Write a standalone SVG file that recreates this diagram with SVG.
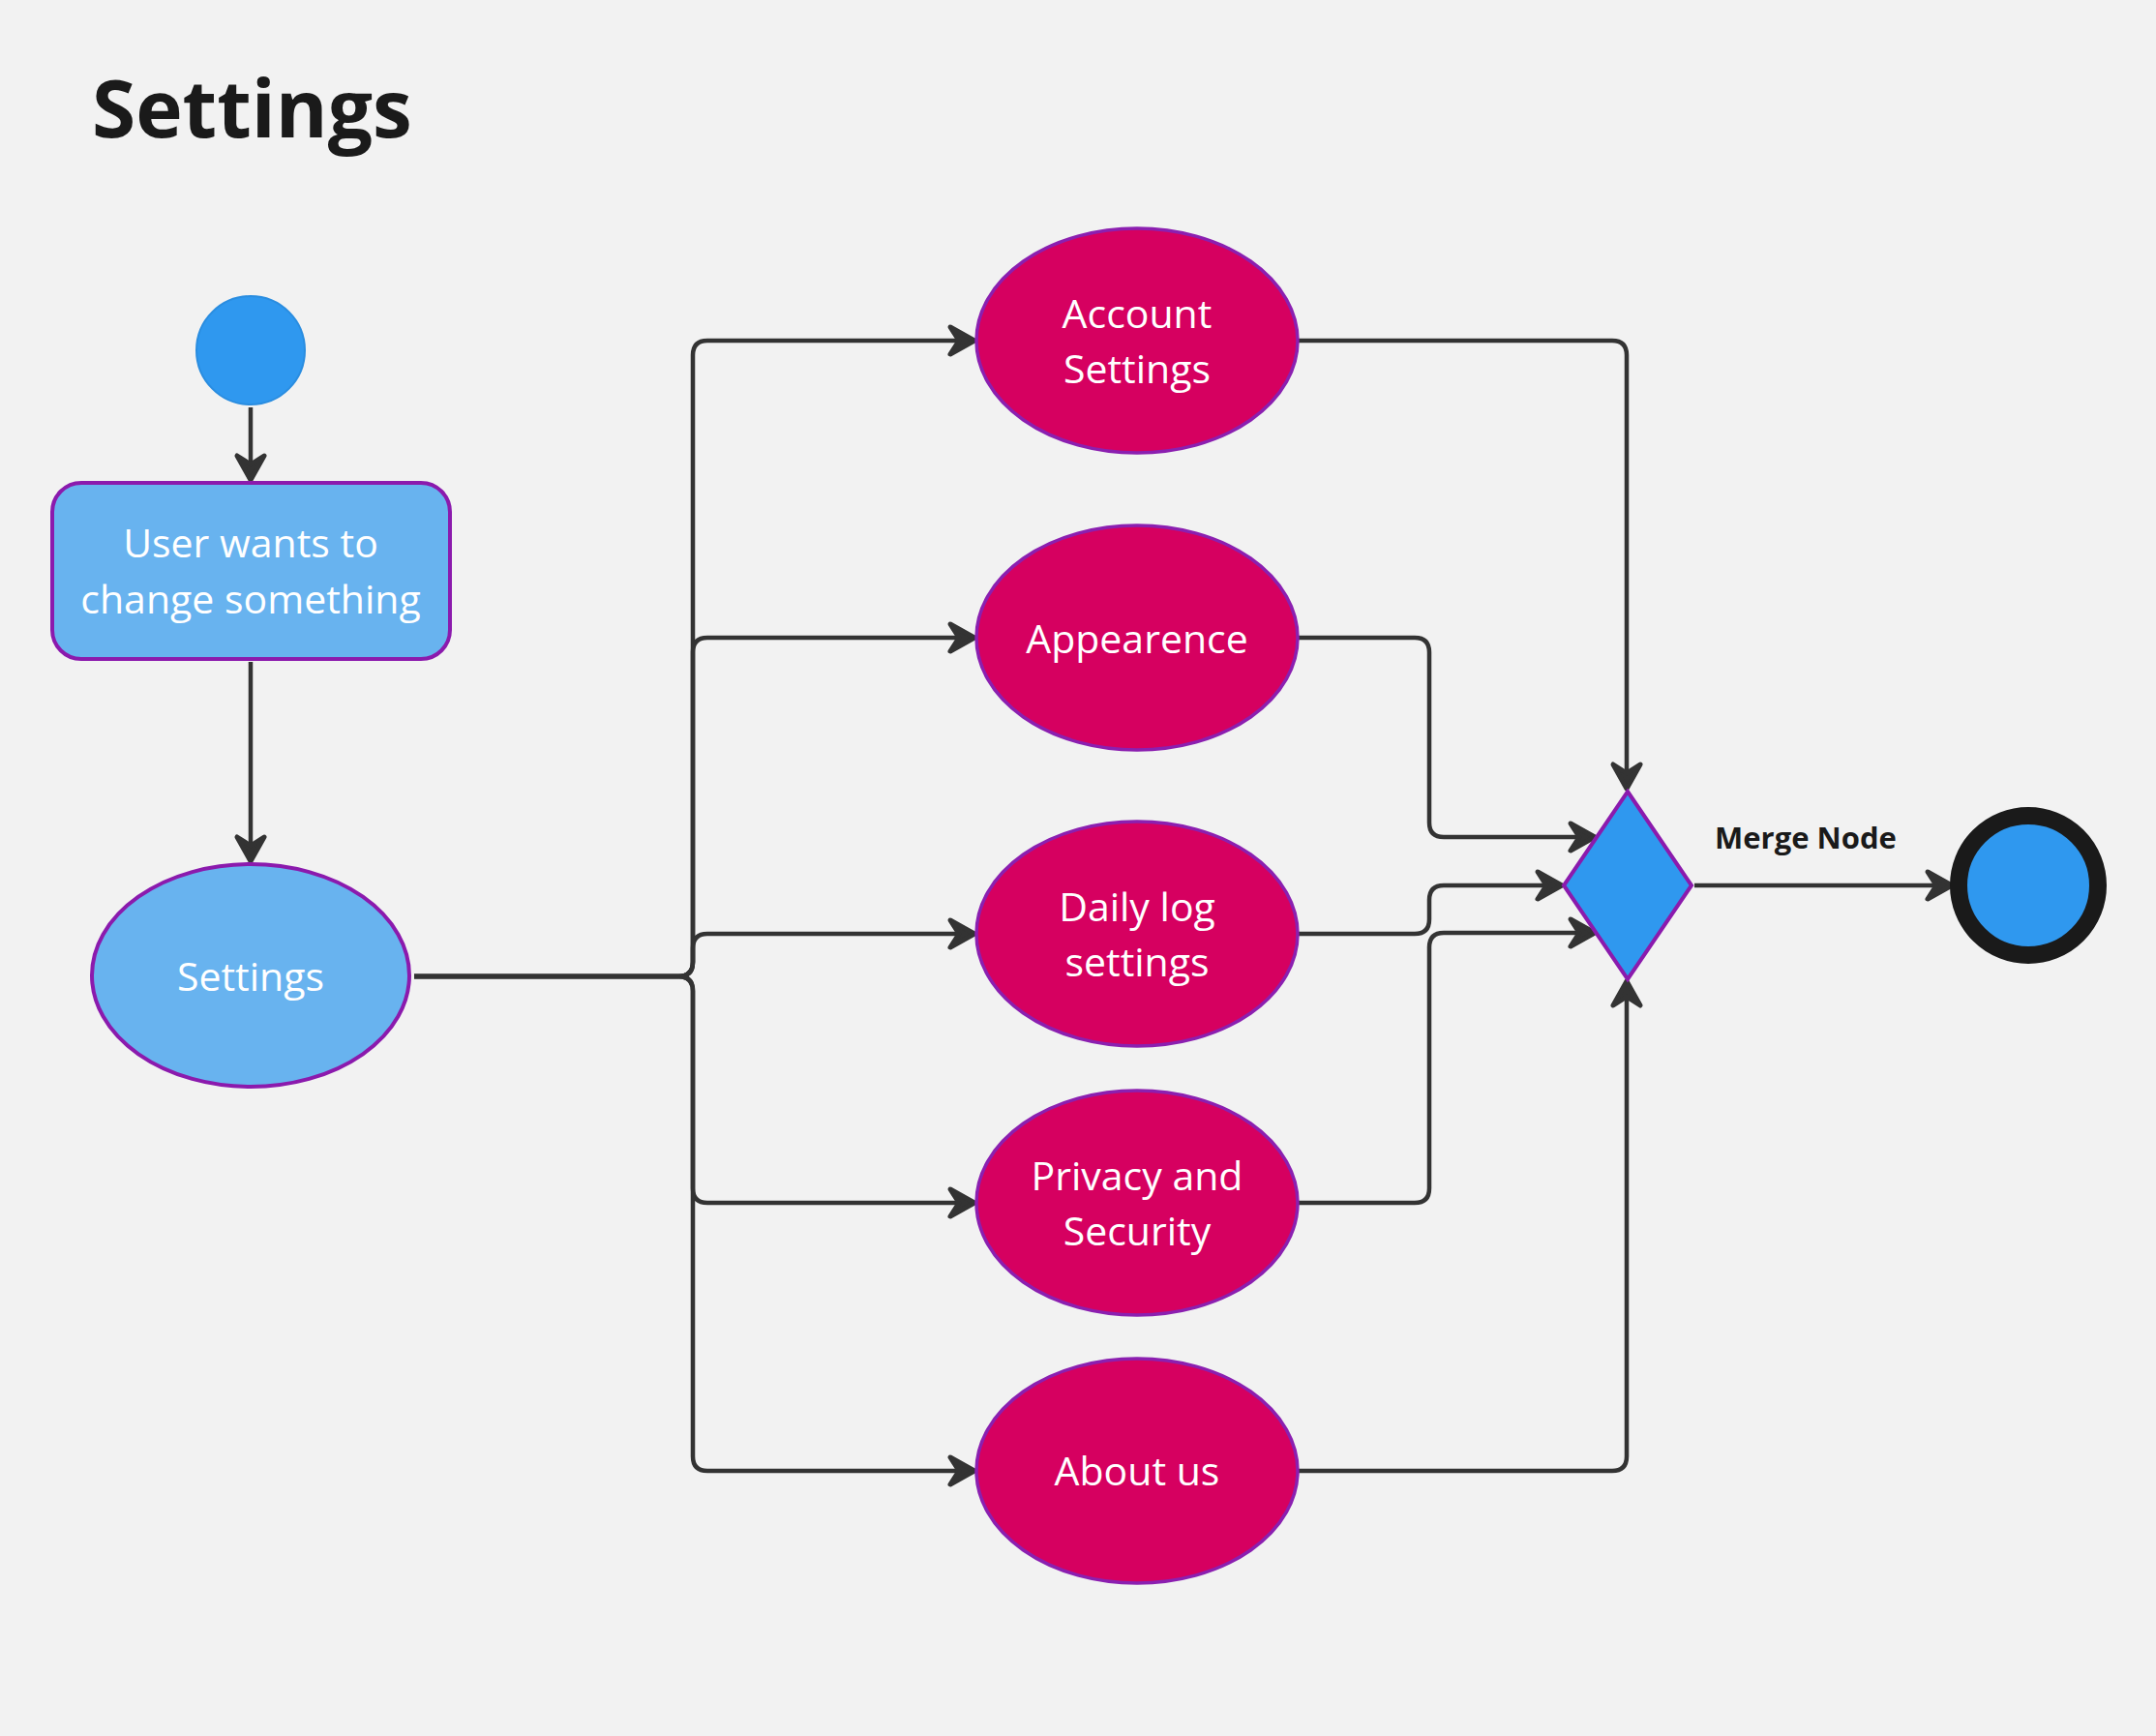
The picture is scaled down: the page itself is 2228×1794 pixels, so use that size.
<svg xmlns="http://www.w3.org/2000/svg" width="2228" height="1794" viewBox="0 0 2228 1794">
<style>
.lbl{font-family:"Open Sans","Noto Sans","Liberation Sans",sans-serif;font-size:41px;fill:#ffffff;text-anchor:middle}
.pink{fill:#d60060;stroke:#8b1fb0;stroke-width:3.5}
.lb{fill:#68b3ef;stroke:#8b1aad;stroke-width:4}
.conn{fill:none;stroke:#333333;stroke-width:4.5;stroke-linejoin:round}
</style>
<defs>
<marker id="arr" viewBox="-36 -22 44 44" refX="-10" refY="0" markerWidth="44" markerHeight="44" markerUnits="userSpaceOnUse" orient="auto">
<path d="M-1,0 L-26,-14 L-17,0 L-26,14 Z" fill="#333333" stroke="#333333" stroke-width="5" stroke-linejoin="round"/>
</marker>
</defs>
<rect x="0" y="0" width="2228" height="1794" fill="#f2f2f2"/>
<text x="95" y="142" font-family="'Open Sans','Noto Sans','Liberation Sans',sans-serif" font-size="82" font-weight="bold" fill="#1a1a1a">Settings</text>

<g id="connectors">
<path class="conn" marker-end="url(#arr)" d="M259,421 V487"/>
<path class="conn" marker-end="url(#arr)" d="M259,684 V881"/>
<path class="conn" marker-end="url(#arr)" d="M428,1009 H701 Q716,1009 716,994 V367 Q716,352 731,352 H998"/>
<path class="conn" marker-end="url(#arr)" d="M428,1009 H701 Q716,1009 716,994 V674 Q716,659 731,659 H998"/>
<path class="conn" marker-end="url(#arr)" d="M428,1009 H701 Q716,1009 716,994 V980 Q716,965 731,965 H998"/>
<path class="conn" marker-end="url(#arr)" d="M428,1009 H701 Q716,1009 716,1024 V1228 Q716,1243 731,1243 H998"/>
<path class="conn" marker-end="url(#arr)" d="M428,1009 H701 Q716,1009 716,1024 V1505 Q716,1520 731,1520 H998"/>
<path class="conn" marker-end="url(#arr)" d="M1342,352 H1666 Q1681,352 1681,367 V806"/>
<path class="conn" marker-end="url(#arr)" d="M1342,659 H1462 Q1477,659 1477,674 V850 Q1477,865 1492,865 H1639"/>
<path class="conn" marker-end="url(#arr)" d="M1342,965 H1462 Q1477,965 1477,950 V930 Q1477,915 1492,915 H1605"/>
<path class="conn" marker-end="url(#arr)" d="M1342,1243 H1462 Q1477,1243 1477,1228 V979 Q1477,964 1492,964 H1639"/>
<path class="conn" marker-end="url(#arr)" d="M1342,1520 H1666 Q1681,1520 1681,1505 V1023"/>
<path class="conn" marker-end="url(#arr)" d="M1751,915 H2008"/>
<text x="1866" y="877" font-family="'Open Sans','Noto Sans','Liberation Sans',sans-serif" font-size="31" font-weight="bold" fill="#1a1a1a" text-anchor="middle">Merge Node</text>
</g>

<g id="start">
<circle cx="259" cy="362" r="56" fill="#2f98ef" stroke="#2a8de0" stroke-width="2"/>
</g>
<g id="user-wants">
<rect x="54" y="499" width="411" height="182" rx="30" ry="30" class="lb"/>
<text class="lbl" x="259" y="576">User wants to</text>
<text class="lbl" x="259" y="634">change something</text>
</g>
<g id="settings">
<ellipse cx="259" cy="1008" rx="164" ry="115" class="lb"/>
<text class="lbl" x="259" y="1024">Settings</text>
</g>
<g id="account">
<ellipse cx="1175" cy="352" rx="166" ry="116" class="pink"/>
<text class="lbl" x="1175" y="339">Account</text>
<text class="lbl" x="1175" y="396">Settings</text>
</g>
<g id="appearence">
<ellipse cx="1175" cy="659" rx="166" ry="116" class="pink"/>
<text class="lbl" x="1175" y="675">Appearence</text>
</g>
<g id="dailylog">
<ellipse cx="1175" cy="965" rx="166" ry="116" class="pink"/>
<text class="lbl" x="1175" y="952">Daily log</text>
<text class="lbl" x="1175" y="1009">settings</text>
</g>
<g id="privacy">
<ellipse cx="1175" cy="1243" rx="166" ry="116" class="pink"/>
<text class="lbl" x="1175" y="1230">Privacy and</text>
<text class="lbl" x="1175" y="1287">Security</text>
</g>
<g id="about">
<ellipse cx="1175" cy="1520" rx="166" ry="116" class="pink"/>
<text class="lbl" x="1175" y="1535">About us</text>
</g>
<g id="merge">
<polygon points="1682,818 1748,915 1682,1012 1616,915" fill="#2f98ef" stroke="#8b1aad" stroke-width="4" stroke-linejoin="miter"/>
</g>
<g id="end">
<circle cx="2096" cy="915" r="72" fill="#2f98ef" stroke="#1a1a1a" stroke-width="18"/>
</g>
</svg>
